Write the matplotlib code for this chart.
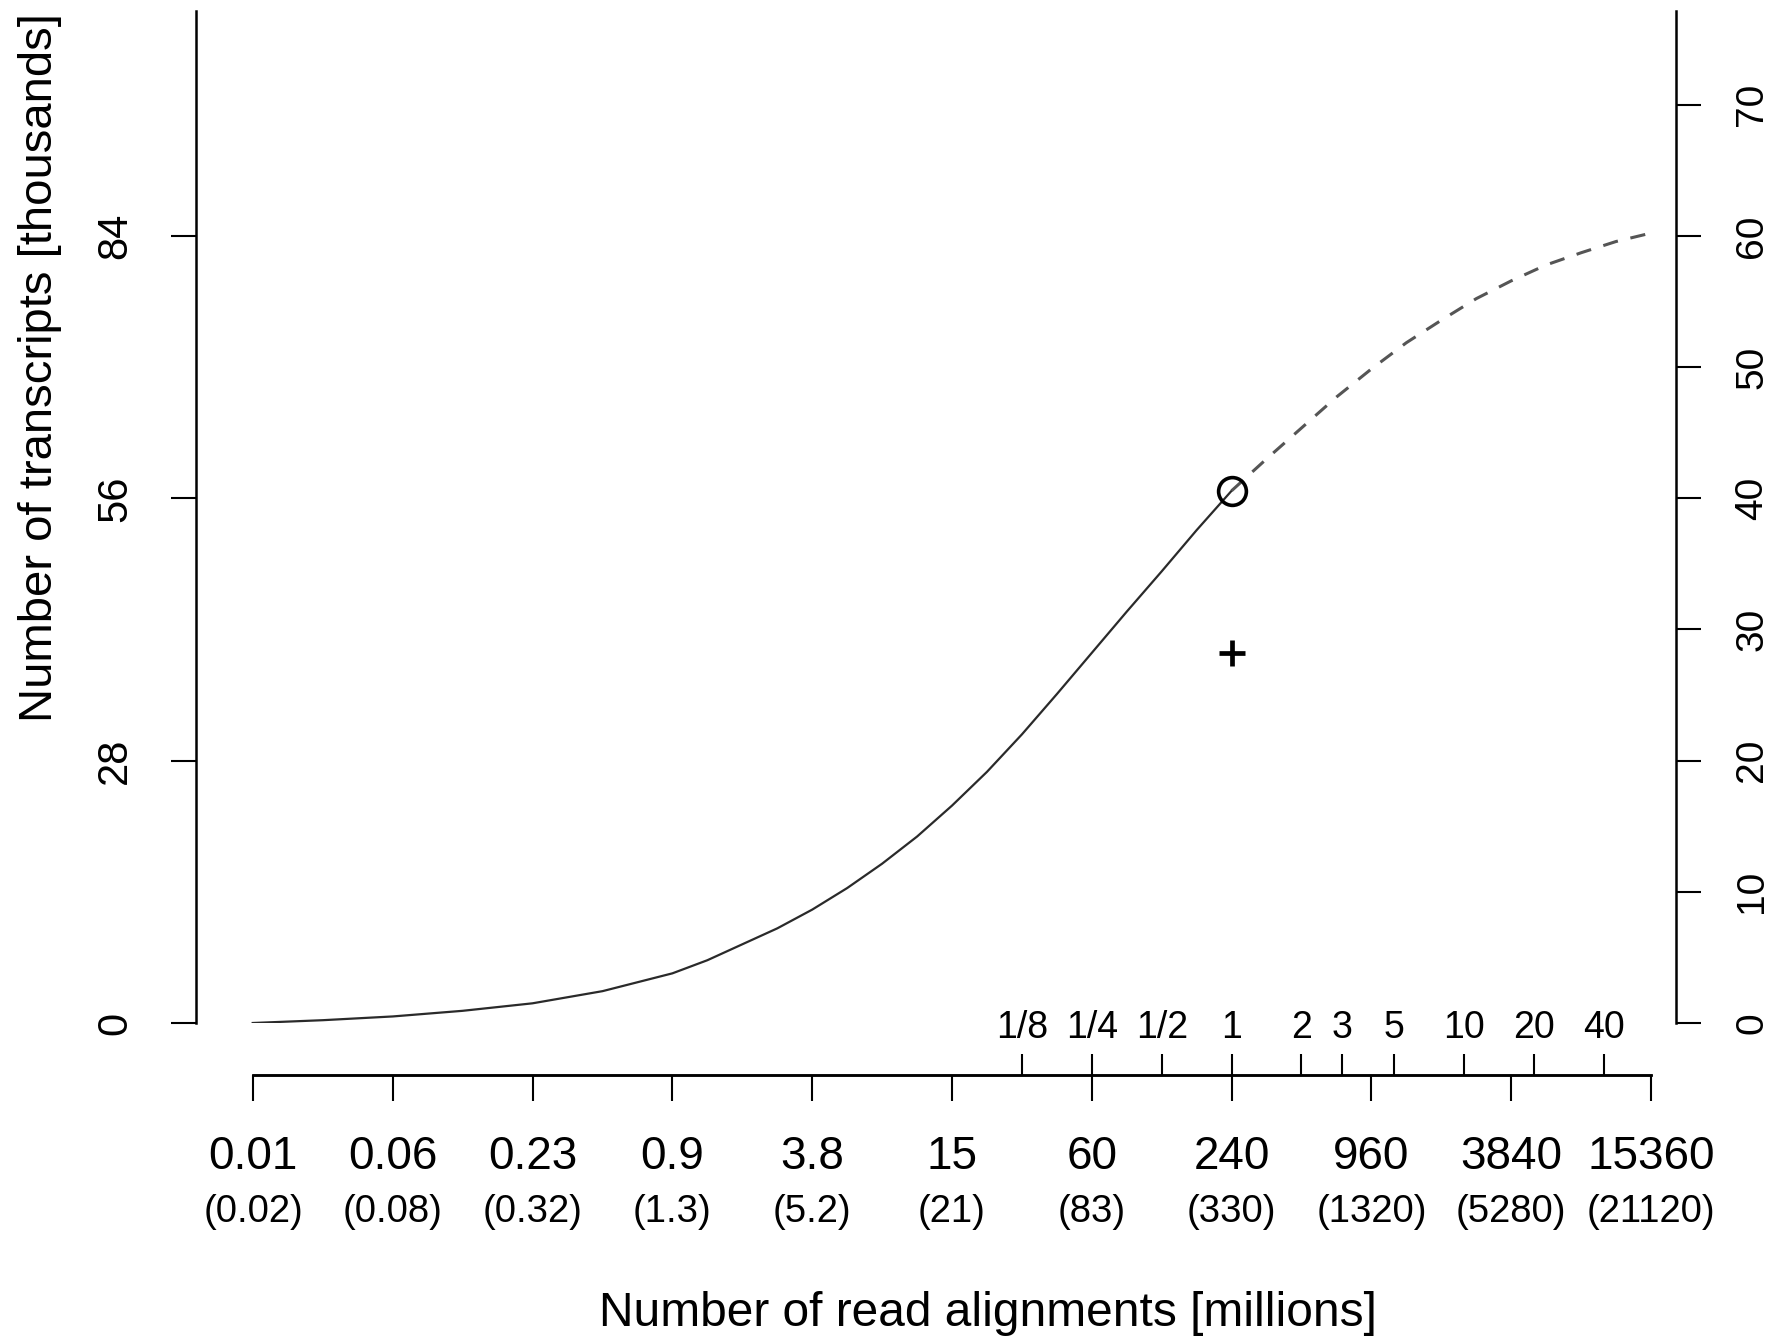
import numpy as np
import matplotlib.pyplot as plt

plt.rcParams['font.family'] = ['Liberation Sans', 'DejaVu Sans']

# lower scale: read alignments in millions, one tick per factor of four
align_ticks = [0.0146484375, 0.05859375, 0.234375, 0.9375, 3.75, 15, 60, 240, 960, 3840, 15360]
align_labels = ['0.01', '0.06', '0.23', '0.9', '3.8', '15', '60', '240', '960', '3840', '15360']
align_sub_labels = ['(0.02)', '(0.08)', '(0.32)', '(1.3)', '(5.2)', '(21)', '(83)',
                    '(330)', '(1320)', '(5280)', '(21120)']

# upper scale: multiples of the full 240M run
fold_ticks = [30, 60, 120, 240, 480, 720, 1200, 2400, 4800, 9600]
fold_labels = ['1/8', '1/4', '1/2', '1', '2', '3', '5', '10', '20', '40']

# transcripts found (thousands) when subsampling the alignments
obs_x = [0.0146, 0.0293, 0.0586, 0.117, 0.234, 0.469, 0.9375, 1.326, 1.875, 2.652,
         3.75, 5.303, 7.5, 10.61, 15, 21.21, 30, 42.43, 60, 84.85, 120, 169.7, 240]
obs_y = [0.0, 0.3, 0.7, 1.3, 2.1, 3.4, 5.3, 6.7, 8.4, 10.1,
         12.1, 14.4, 17.0, 19.9, 23.2, 26.8, 30.8, 35.1, 39.5, 43.9, 48.2, 52.6, 56.8]

# extrapolated curve beyond the full data set
ext_x = [240, 339.4, 480, 678.8, 960, 1358, 1920, 2715, 3840, 5431, 7680, 10861, 15360]
ext_y = [56.8, 60.2, 63.5, 66.8, 69.8, 72.6, 75.0, 77.3, 79.2, 80.9, 82.2, 83.4, 84.3]

# full run and the reference count
full_x, full_y = 240, 56.8
ref_x, ref_y = 240, 39.5

left_ticks = [0, 28, 56, 84]
right_ticks = [0, 10, 20, 30, 40, 50, 60, 70]
right_scale = 1.4

fig = plt.figure(figsize=(17.89, 13.37), dpi=100)
ax = fig.add_axes([196 / 1789, 314 / 1337, 1480 / 1789, 1012 / 1337])

ax.plot(obs_x, obs_y, color='#2a2a2a', lw=1.6, solid_joinstyle='round')
ax.plot(ext_x, ext_y, color='#555555', lw=2.2, linestyle=(0, (5, 4.2)))
ax.plot([full_x], [full_y], marker='o', ms=20, mfc='none', mec='black', mew=2.6)
ax.plot([ref_x], [ref_y], marker='+', ms=19, mec='black', mew=3.4)

ax.set_xscale('log')
ax.set_xlim(align_ticks[0] / 4 ** 0.408, align_ticks[-1] * 4 ** 0.179)
ax.set_ylim(0, 108)
ax.minorticks_off()

ax.spines['top'].set_visible(False)
ax.spines['right'].set_visible(False)
ax.spines['left'].set_linewidth(1.8)
ax.spines['bottom'].set_position(('axes', -52 / 1012))
ax.spines['bottom'].set_bounds(align_ticks[0], align_ticks[-1])
ax.spines['bottom'].set_linewidth(1.8)

ax.set_yticks(left_ticks)
ax.set_yticklabels([str(v) for v in left_ticks], rotation=90, va='center')
ax.tick_params(axis='y', length=18, width=1.5, pad=26, labelsize=30)

ax.set_xticks(align_ticks)
ax.set_xticklabels(align_labels)
ax.tick_params(axis='x', length=19, width=1.5, pad=24, labelsize=33)

trans = ax.get_xaxis_transform()
for xv, lab in zip(align_ticks, align_sub_labels):
    ax.text(xv, -189 / 1012, lab, transform=trans, ha='center', va='center', fontsize=27.5)

# fold change scale sharing the bottom line, ticks pointing up
top = ax.twiny()
top.set_xscale('log')
top.set_xlim(ax.get_xlim())
top.minorticks_off()
top.spines['top'].set_position(('axes', -52 / 1012))
top.spines['top'].set_bounds(align_ticks[0], align_ticks[-1])
top.spines['top'].set_linewidth(1.8)
for side in ['bottom', 'left', 'right']:
    top.spines[side].set_visible(False)
top.set_xticks(fold_ticks)
top.set_xticklabels(fold_labels)
top.tick_params(axis='x', length=15, width=1.5, pad=6, labelsize=27)

# right scale in the other unit
rax = ax.twinx()
rax.set_ylim(0, 108 / right_scale)
rax.spines['right'].set_linewidth(1.8)
for side in ['top', 'bottom', 'left']:
    rax.spines[side].set_visible(False)
rax.set_yticks(right_ticks)
rax.set_yticklabels([str(v) for v in right_ticks], rotation=90, va='center')
rax.tick_params(axis='y', length=18, width=1.5, pad=24, labelsize=28)

fig.text(40 / 1789, 1 - 368 / 1337, 'Number of transcripts [thousands]',
         rotation=90, ha='center', va='center', fontsize=34)
fig.text(988 / 1789, 1 - 1314 / 1337, 'Number of read alignments [millions]',
         ha='center', va='center', fontsize=34.5)

fig.savefig('out.png', dpi=100)
